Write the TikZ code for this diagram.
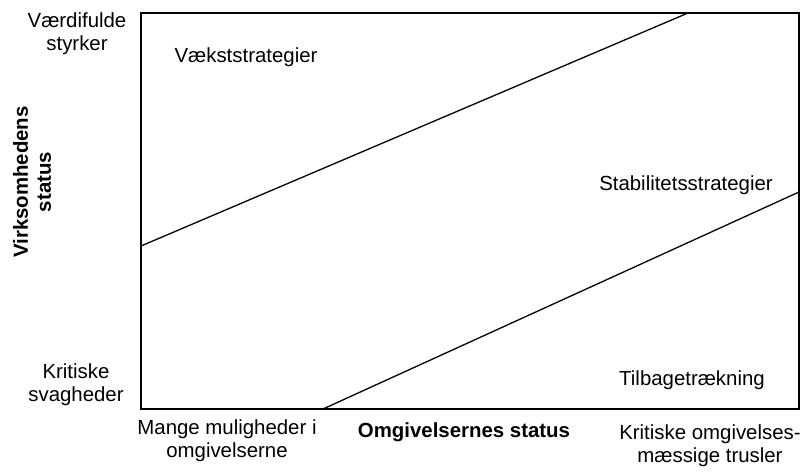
\documentclass[tikz,border=0pt]{standalone}
\usepackage{fontspec}
\setmainfont{Liberation Sans}
\begin{document}
\begin{tikzpicture}[x=1pt,y=-1pt,
  lbl/.style={inner sep=0pt,align=center,font=\fontsize{20.4}{23}\selectfont},
  axis/.style={lbl,font=\fontsize{20.4}{23}\selectfont\bfseries},
  edge/.style={line width=1.3pt}]
\useasboundingbox (0,0) rectangle (806,474);
% frame of the matrix
\coordinate (tl) at (141,13);
\coordinate (br) at (799,409);
\draw[edge] (tl) rectangle (br);
% dividing lines
\coordinate (a1) at (141,246);
\coordinate (a2) at (688,13);
\coordinate (b1) at (323,409);
\coordinate (b2) at (799,192);
\draw[edge] (a1) -- (a2);
\draw[edge] (b1) -- (b2);
% region labels
\node[lbl] (grow) at (246,57) {Vækststrategier};
\node[lbl] (stab) at (686,185) {Stabilitetsstrategier};
\node[lbl] (back) at (692,380) {Tilbagetrækning};
% vertical axis
\node[lbl] (ytop) at (77,34) {Værdifulde\\styrker};
\node[lbl] (ybot) at (76,385) {Kritiske\\svagheder};
\node[axis,rotate=90] (ytitle) at (32,182) {Virksomhedens\\status};
% horizontal axis
\node[lbl] (xleft) at (227,441) {Mange muligheder i\\omgivelserne};
\node[axis] (xtitle) at (464,432) {Omgivelsernes status};
\node[lbl] (xright) at (710,446) {Kritiske omgivelses-\\mæssige trusler};
\end{tikzpicture}
\end{document}
